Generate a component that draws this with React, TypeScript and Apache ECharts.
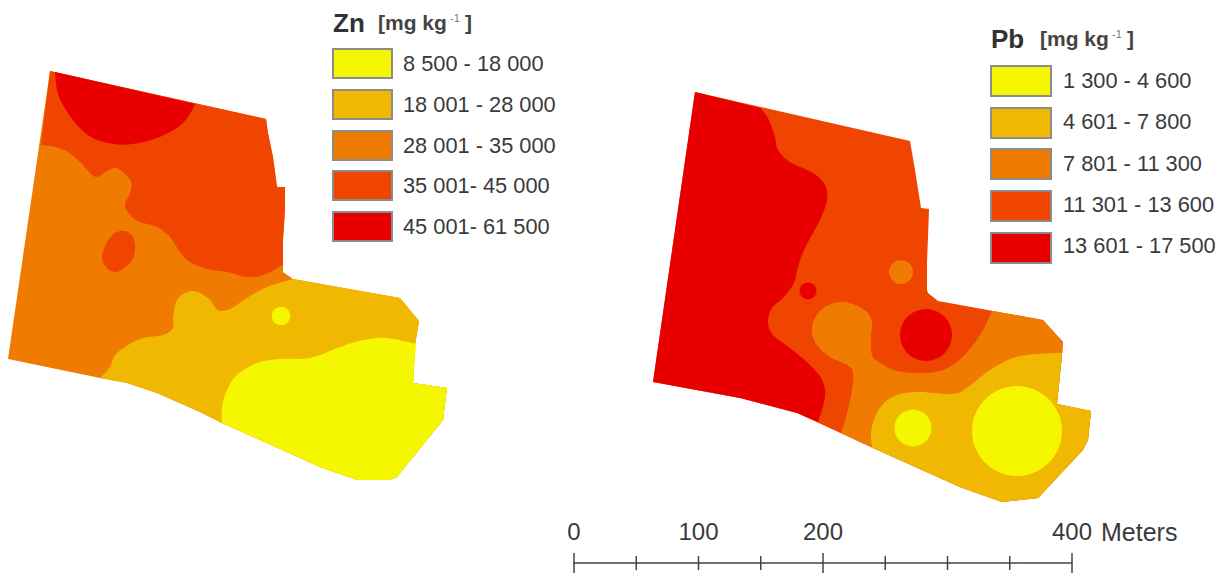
import React, { useEffect, useRef } from "react";
import * as echarts from "echarts";

type Pt = number[];

const rampColors = ["#f5f700", "#f0b800", "#ef7c00", "#f04500", "#e80000"];

const zincRanges = ["8 500 - 18 000", "18 001 - 28 000", "28 001 - 35 000", "35 001- 45 000", "45 001- 61 500"];
const leadRanges = ["1 300 - 4 600", "4 601 - 7 800", "7 801 - 11 300", "11 301 - 13 600", "13 601 - 17 500"];

const scaleLabels = [0, 100, 200, 400];
const scaleTicks = [0, 50, 100, 150, 200, 250, 300, 350, 400];
const scaleMajor = [0, 200, 400];

// Zn map: field outline and contour lines in map units
const znField: Pt[] = [[50, 71], [266, 119], [268, 133], [273, 157], [277, 187], [285, 187], [285, 210], [283, 240], [283, 265], [283, 272], [293, 279], [400, 298], [419, 321], [415, 345], [413, 383], [447, 388], [443, 420], [397, 477], [390, 480], [357, 480], [320, 467], [222, 423], [200, 412], [157, 393], [127, 383], [100, 378], [8, 359]];
const znUpperRim: Pt[] = [[41, 145], [50, 71], [266, 119], [268, 133], [273, 157], [277, 187], [285, 187], [285, 210], [283, 240], [283, 265]];
const znUpperLine: Pt[] = [[283, 265], [263, 275], [247, 277], [227, 272], [207, 269], [190, 262], [180, 252], [170, 237], [157, 227], [140, 222], [130, 215], [125, 205], [130, 193], [131, 182], [123, 172], [115, 168], [107, 171], [97, 177], [90, 173], [80, 162], [68, 152], [55, 147], [41, 145]];
const znCapLine: Pt[] = [[55, 72], [57, 90], [63, 105], [77, 125], [93, 138], [113, 144], [133, 144], [157, 138], [177, 128], [188, 117], [195, 104]];
const znCapRim: Pt[] = [[195, 104], [55, 72]];
const znIslet: Pt[] = [[125, 231], [133, 237], [135, 250], [130, 263], [117, 272], [107, 268], [102, 257], [107, 242], [115, 233]];
const znMidLine: Pt[] = [[100, 378], [110, 367], [115, 355], [128, 345], [143, 338], [163, 335], [173, 328], [173, 317], [177, 300], [187, 292], [198, 292], [210, 300], [218, 310], [230, 309], [247, 298], [267, 287], [293, 279]];
const znMidRim: Pt[] = [[293, 279], [400, 298], [419, 321], [415, 345], [413, 383], [447, 388], [443, 420], [397, 477], [390, 480], [357, 480], [320, 467], [222, 423], [200, 412], [157, 393], [127, 383], [100, 378]];
const znLowLine: Pt[] = [[222, 423], [222, 407], [227, 390], [237, 375], [257, 363], [280, 359], [310, 358], [340, 347], [363, 340], [387, 338], [416, 344]];
const znLowRim: Pt[] = [[416, 344], [413, 383], [447, 388], [443, 420], [397, 477], [390, 480], [357, 480], [320, 467], [222, 423]];
const znSpot = [281, 316, 9.3];

// Pb map
const pbField: Pt[] = [[695, 92], [910, 141], [915, 170], [921, 208], [929, 209], [928, 237], [927, 262], [927, 290], [928, 293], [938, 301], [1043, 320], [1063, 342], [1062, 355], [1057, 404], [1091, 411], [1088, 440], [1083, 450], [1038, 498], [1002, 502], [960, 487], [873, 448], [797, 413], [740, 398], [653, 382]];
const pbWestLine: Pt[] = [[760, 108], [768, 118], [775, 137], [778, 150], [790, 162], [813, 173], [825, 185], [827, 200], [820, 220], [805, 248], [798, 267], [794, 283], [783, 298], [772, 308], [768, 322], [773, 335], [790, 348], [810, 365], [822, 380], [825, 397], [818, 422]];
const pbWestRim: Pt[] = [[818, 422], [797, 413], [740, 398], [653, 382], [695, 92], [760, 108]];
const pbMidLine: Pt[] = [[992, 311], [983, 330], [973, 345], [957, 362], [940, 371], [920, 373], [897, 371], [880, 363], [872, 355], [871, 337], [872, 323], [867, 312], [853, 304], [840, 302], [825, 307], [815, 318], [812, 332], [817, 345], [830, 357], [847, 365], [853, 372], [852, 390], [847, 413], [841, 433]];
const pbMidRim: Pt[] = [[841, 433], [873, 448], [960, 487], [1002, 502], [1038, 498], [1083, 450], [1088, 440], [1091, 411], [1057, 404], [1062, 355], [1063, 342], [1043, 320], [992, 311]];
const pbLowLine: Pt[] = [[872, 447], [871, 433], [875, 417], [885, 402], [900, 394], [920, 392], [953, 394], [968, 387], [990, 370], [1013, 358], [1037, 354], [1062, 353]];
const pbLowRim: Pt[] = [[1062, 353], [1057, 404], [1091, 411], [1088, 440], [1083, 450], [1038, 498], [1002, 502], [960, 487], [873, 448], [872, 447]];
const pbSpots: { spot: number[]; band: number }[] = [
  { spot: [901, 272, 12], band: 2 },
  { spot: [808, 291, 8.5], band: 4 },
  { spot: [926, 335, 26], band: 4 },
  { spot: [913, 428, 18.5], band: 0 },
  { spot: [1017, 431, 45], band: 0 },
];

function smoothOpen(p: Pt[], closed = false): Pt[] {
  const out: Pt[] = [];
  const n = p.length;
  const at = (i: number) => (closed ? p[(i + n) % n] : p[Math.max(0, Math.min(n - 1, i))]);
  const segs = closed ? n : n - 1;
  for (let i = 0; i < segs; i++) {
    const [a, b, c, d] = [at(i - 1), at(i), at(i + 1), at(i + 2)];
    for (let s = 0; s < 8; s++) {
      const t = s / 8;
      const t2 = t * t;
      const t3 = t2 * t;
      out.push([0, 1].map((k) =>
        0.5 * (2 * b[k] + (c[k] - a[k]) * t + (2 * a[k] - 5 * b[k] + 4 * c[k] - d[k]) * t2 + (3 * b[k] - a[k] - 3 * c[k] + d[k]) * t3)
      ));
    }
  }
  return out;
}

type Layer = { band: number; points?: Pt[]; spot?: number[] };

const layers: Layer[] = [
  { band: 2, points: znField },
  { band: 3, points: [...smoothOpen(znUpperLine), ...znUpperRim] },
  { band: 4, points: [...smoothOpen(znCapLine), ...znCapRim] },
  { band: 3, points: smoothOpen(znIslet, true) },
  { band: 1, points: [...smoothOpen(znMidLine), ...znMidRim] },
  { band: 0, points: [...smoothOpen(znLowLine), ...znLowRim] },
  { band: 0, spot: znSpot },
  { band: 3, points: pbField },
  { band: 4, points: [...smoothOpen(pbWestLine), ...pbWestRim] },
  { band: 2, points: [...smoothOpen(pbMidLine), ...pbMidRim] },
  { band: 1, points: [...smoothOpen(pbLowLine), ...pbLowRim] },
  ...pbSpots,
];

const FONT = '"Liberation Sans", Arial, sans-serif';
const INK = "#3a3a3a";

function legendBlock(
  title: string,
  ranges: string[],
  x: number,
  swatchW: number,
  swatchH: number,
  swatchY: number[],
  labelX: number,
  labelY: number[],
  titleY: number,
  unitX: number
) {
  const els: any[] = [];
  els.push({ type: "text", x: x, y: titleY, style: { text: title, font: `bold 26px ${FONT}`, fill: "#333", textVerticalAlign: "middle" } });
  els.push({ type: "text", x: unitX, y: titleY - 1, style: { text: "[mg kg", font: `bold 21px ${FONT}`, fill: "#444", textVerticalAlign: "middle" } });
  els.push({ type: "text", x: unitX + 72, y: titleY - 5, style: { text: "-1", font: `11px ${FONT}`, fill: "#777", textVerticalAlign: "middle" } });
  els.push({ type: "text", x: unitX + 87, y: titleY - 1, style: { text: "]", font: `bold 21px ${FONT}`, fill: "#444", textVerticalAlign: "middle" } });
  ranges.forEach((r, i) => {
    els.push({
      type: "rect",
      shape: { x: x, y: swatchY[i], width: swatchW, height: swatchH },
      style: { fill: rampColors[i], stroke: "#8c8c8c", lineWidth: 2 },
    });
    els.push({ type: "text", x: labelX, y: labelY[i], style: { text: r, font: `21.8px ${FONT}`, fill: INK, textVerticalAlign: "middle" } });
  });
  return els;
}

export default function App() {
  const ref = useRef<HTMLDivElement>(null);
  useEffect(() => {
    document.body.style.margin = "0";
    const chart = echarts.init(ref.current!, null, { renderer: "svg" });
    chart.setOption({
      animation: false,
      backgroundColor: "#ffffff",
      grid: [
        { left: 0, right: 0, top: 0, bottom: 0 },
        { left: 574, width: 498, top: 0, height: 563 },
      ],
      xAxis: [
        { type: "value", gridIndex: 0, min: 0, max: 1229, show: false },
        {
          type: "value",
          gridIndex: 1,
          min: 0,
          max: 400,
          interval: 50,
          splitLine: { show: false },
          axisTick: { show: false },
          axisLine: { show: true, onZero: false, lineStyle: { color: "#444", width: 1.5 } },
          axisLabel: {
            inside: true,
            margin: 20,
            customValues: scaleLabels,
            color: INK,
            fontSize: 24,
            fontFamily: FONT,
          },
        },
      ],
      yAxis: [
        { type: "value", gridIndex: 0, min: 0, max: 573, inverse: true, show: false },
        { type: "value", gridIndex: 1, min: 0, max: 1, show: false },
      ],
      series: [
        {
          type: "custom",
          xAxisIndex: 0,
          yAxisIndex: 0,
          clip: false,
          silent: true,
          data: layers.map((_, i) => i),
          renderItem: (params: any, api: any) => {
            const layer = layers[params.dataIndex];
            const fill = rampColors[layer.band];
            if (layer.spot) {
              const c = api.coord([layer.spot[0], layer.spot[1]]);
              const r = api.size([layer.spot[2], 0])[0];
              return { type: "circle", shape: { cx: c[0], cy: c[1], r }, style: { fill } };
            }
            return {
              type: "polygon",
              shape: { points: layer.points!.map((p) => api.coord(p)) },
              style: { fill },
            };
          },
        },
        {
          type: "custom",
          xAxisIndex: 1,
          yAxisIndex: 1,
          clip: false,
          silent: true,
          data: scaleTicks,
          renderItem: (params: any, api: any) => {
            const v = scaleTicks[params.dataIndex];
            const p = api.coord([v, 0]);
            const major = scaleMajor.includes(v);
            return {
              type: "line",
              shape: { x1: p[0], y1: p[1] - (major ? 10 : 7), x2: p[0], y2: p[1] + (major ? 10 : 7) },
              style: { stroke: "#444", lineWidth: 1.5 },
            };
          },
        },
      ],
      graphic: {
        elements: [
          ...legendBlock("Zn", zincRanges, 333, 59, 29, [49, 90, 131, 171, 212], 403, [63, 104, 145, 185, 226], 23, 378),
          ...legendBlock("Pb", leadRanges, 991, 60, 30, [66, 108, 149, 191, 233], 1063, [80, 121, 163, 204, 245], 39, 1040),
          { type: "text", x: 1101, y: 532, style: { text: "Meters", font: `25px ${FONT}`, fill: INK, textVerticalAlign: "middle" } },
        ],
      },
    });
    return () => chart.dispose();
  }, []);
  return <div ref={ref} style={{ width: 1229, height: 573 }} />;
}
